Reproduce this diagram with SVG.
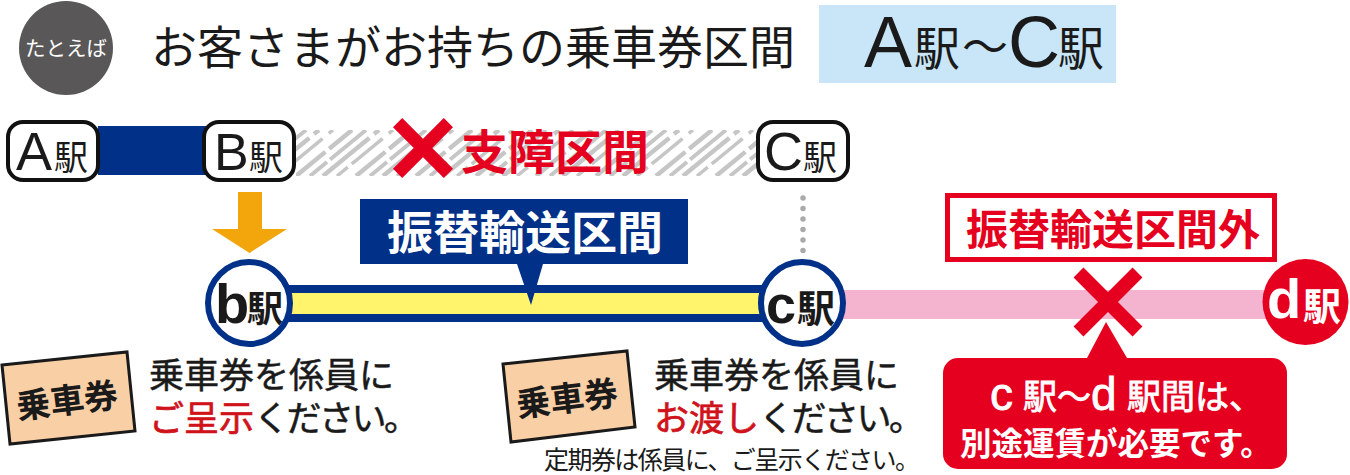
<svg xmlns="http://www.w3.org/2000/svg" width="1350" height="475" viewBox="0 0 1350 475">
<style>
text{font-family:"Noto Sans CJK JP","Liberation Sans",sans-serif;fill:#1a1a1a}
.l{font-family:"Liberation Sans","Noto Sans CJK JP",sans-serif}
.w{fill:#fff}.r{fill:#e60020}
.b{font-weight:700}
.m{stroke:#1a1a1a;stroke-width:.5}
.wm{stroke:#fff;stroke-width:.8}
.rm{fill:#d0121b;stroke:#d0121b;stroke-width:.7}
.st{fill:#fff;stroke:#111;stroke-width:4}
.ci{fill:#fff;stroke:#003087;stroke-width:6}
.tk{fill:#f9cfa6;stroke:#1a1a1a;stroke-width:3}
.x{stroke:#e60020;fill:none}
.kana{letter-spacing:-2.5px}
</style>
<defs>
<pattern id="hatch-tile" width="60" height="46" patternUnits="userSpaceOnUse" x="296" y="130">
<g stroke="#c6c6c6" fill="none">
<path d="M0 46L56 0M-60 46L-4 0M60 46L116 0" stroke-width="4.500" stroke-dasharray="38 5 30"/>
<path d="M14 46L70 0M-46 46L10 0" stroke-width="4" stroke-dasharray="22 4 50"/>
<path d="M27 46L83 0M-33 46L23 0" stroke-width="4.500" stroke-dasharray="60 6"/>
<path d="M41 46L97 0M-19 46L37 0" stroke-width="3.500" stroke-dasharray="14 5 40 8"/>
</g>
</pattern>
</defs>
<rect width="1350" height="475" fill="#fff"/>
<g id="example-badge"><circle cx="66" cy="48" r="47" fill="#595757"/><text x="66" y="56" font-size="20.500" text-anchor="middle" class="w">たとえば</text></g>
<g id="title"><text x="151" y="64" font-size="46">お客さまがお持ちの乗車券区間</text></g>
<g id="ticket-range"><rect x="819" y="5" width="297" height="78" fill="#c8e6f8"/><text x="864" y="67" font-size="72" class="l">A</text><text x="914" y="65" font-size="46">駅</text><text x="962" y="63" font-size="46">～</text><text x="1008" y="67" font-size="72" class="l">C</text><text x="1058" y="65" font-size="46">駅</text></g>
<g id="connectors">
<rect x="98" y="126" width="108" height="49" fill="#003087"/>
<rect id="hatch" x="296" y="130" width="460" height="46" fill="url(#hatch-tile)"/>
<line x1="803" y1="198" x2="803" y2="252" stroke="#aaa" stroke-width="5.500" stroke-linecap="round" stroke-dasharray="0 10.500"/>
<rect x="280" y="285" width="490" height="37" fill="#fff46b"/>
<path d="M280 289H770M280 318H770" stroke="#003087" stroke-width="8" fill="none"/>
<rect x="840" y="290" width="430" height="29" fill="#f4b3ce"/>
<path d="M238 192h24v37h25l-37.500 24-37.500-24h26z" fill="#f3a50c"/>
</g>
<g id="node-a"><rect x="8" y="122" width="90" height="58" rx="15" class="st"/><text x="16" y="170" font-size="54" class="l">A</text><text x="54" y="170" font-size="34">駅</text></g>
<g id="node-b"><rect x="204" y="122" width="90" height="58" rx="15" class="st"/><text x="214" y="170" font-size="52" class="l">B</text><text x="249" y="170" font-size="34">駅</text></g>
<g id="node-c"><rect x="758" y="122" width="90" height="58" rx="15" class="st"/><text x="764" y="170" font-size="54" class="l">C</text><text x="803" y="170" font-size="34">駅</text></g>
<g id="suspended-label"><path d="M397.600 122.600L448.400 173.400M448.400 122.600L397.600 173.400" class="x" stroke-width="13"/><text x="461" y="169" font-size="47" class="r b">支障区間</text></g>
<g id="transfer-label"><path d="M360 199H688V264H543L531 305 517 264H360z" fill="#003087"/><text x="387" y="249" font-size="46" class="w b">振替輸送区間</text></g>
<g id="out-label"><rect x="947.500" y="195.500" width="327" height="64" fill="#fff" stroke="#e60020" stroke-width="5"/><text x="966" y="245" font-size="42" class="r b">振替輸送区間外</text></g>
<g id="node-b2"><circle cx="249" cy="303" r="41" class="ci"/><text x="215" y="323" font-size="56" class="l b">b</text><text x="247" y="322" font-size="36" class="b">駅</text></g>
<g id="node-c2"><circle cx="802" cy="303" r="41" class="ci"/><text x="766" y="323" font-size="54" class="l b">c</text><text x="797" y="322" font-size="38" class="b">駅</text></g>
<g id="node-d2"><circle cx="1305.500" cy="302" r="43" fill="#e60020"/><text x="1267" y="318" font-size="56" class="l b w">d</text><text x="1303" y="320" font-size="38" class="b w">駅</text></g>
<g id="out-x"><path d="M1078.500 272.500L1137.500 331.500M1137.500 272.500L1078.500 331.500" class="x" stroke-width="14"/></g>
<g id="fare-note"><path d="M1106 322L1127 358H1272a15 15 0 0 1 15 15V454a15 15 0 0 1-15 15H958a15 15 0 0 1-15-15V373a15 15 0 0 1 15-15H1087z" fill="#e60020"/><text x="990" y="410" font-size="46" class="l w wm">c</text><text x="1023" y="409" font-size="34" class="w wm">駅～</text><text x="1091" y="410" font-size="46" class="l w wm">d</text><text x="1127" y="409" font-size="34" class="w wm">駅間は、</text><text x="960" y="455" font-size="31.500" class="b w">別途運賃が必要です。</text></g>
<g id="ticket-1"><path d="M2 365L127 352 135 431 10 444z" class="tk"/><text x="0" y="0" font-size="34" class="b" transform="translate(18 419) rotate(-7)">乗車券</text></g>
<g id="ticket-2"><path d="M503 364L627 351 635 427 511 442z" class="tk"/><text x="0" y="0" font-size="34" class="b" transform="translate(518 417) rotate(-7)">乗車券</text></g>
<g id="note-1"><text x="149" y="388" font-size="35" class="m">乗車券を係員に</text><text x="149" y="431" font-size="35" class="m"><tspan class="rm">ご呈示</tspan><tspan class="kana">ください。</tspan></text></g>
<g id="note-2"><text x="654" y="388" font-size="35" class="m">乗車券を係員に</text><text x="654" y="431" font-size="35" class="m"><tspan class="rm">お渡し</tspan><tspan class="kana">ください。</tspan></text><text x="544" y="469" font-size="25" textLength="376" lengthAdjust="spacing">定期券は係員に、ご呈示ください。</text></g>
</svg>
